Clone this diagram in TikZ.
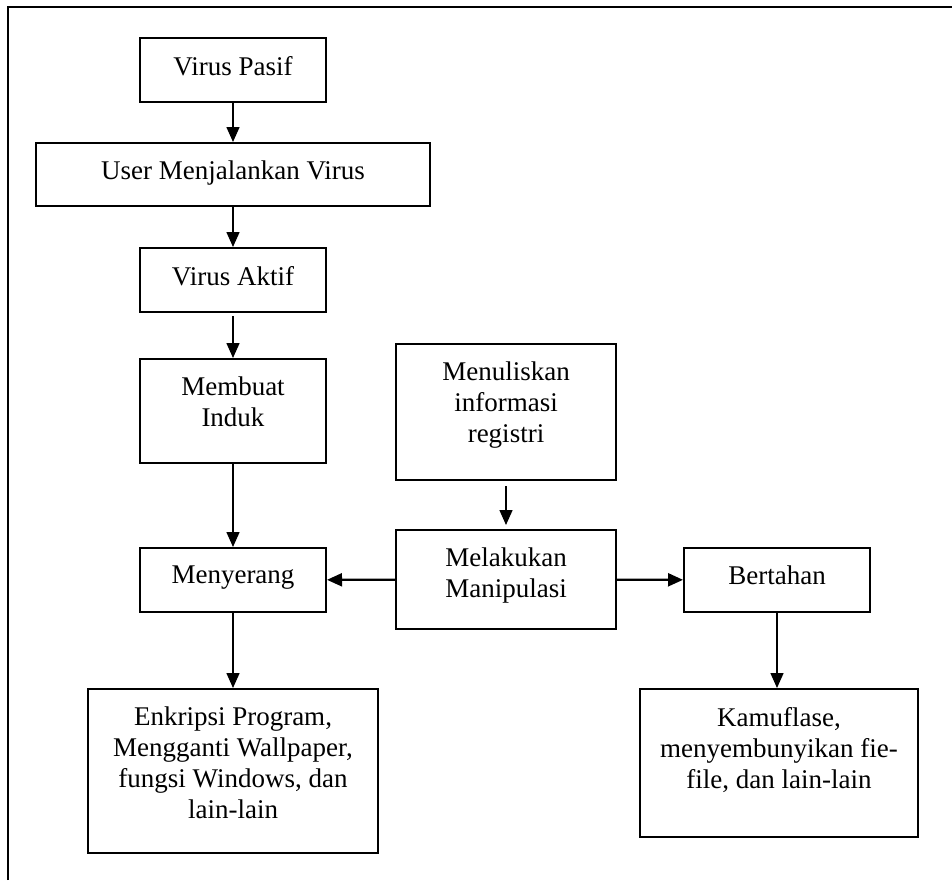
\documentclass[tikz,border=0pt]{standalone}
\usepackage{fontspec}
\setmainfont{Liberation Serif}
\usetikzlibrary{arrows.meta,positioning}

\tikzset{
  stagebox/.style={draw=black, line width=2pt, inner sep=0pt},
  boxtext/.style={label={[anchor=north, yshift=-19pt, inner sep=0pt, align=center,
      font=\fontsize{27}{31}\selectfont]north:{#1}}},
  flow/.style={-{Triangle[length=15pt,width=13pt]}, line width=1.5pt},
  sideflow/.style={flow, line width=2.2pt}
}

\begin{document}
\begin{tikzpicture}[x=1pt,y=-1pt]
    \useasboundingbox (0,0) rectangle (952,880);
    % frame (only top and left edges show)
    \draw[line width=2pt] (7.5,880) -- (7.5,7.5) -- (952,7.5);

    % left column
    \node[stagebox, minimum width=186pt, minimum height=64pt,
      boxtext={Virus Pasif}] (pasif) at (233,70) {};
    \node[stagebox, minimum width=394pt, minimum height=63pt,
      boxtext={User Menjalankan Virus}] (user) at (233,174.5) {};
    \node[stagebox, minimum width=186pt, minimum height=64pt,
      boxtext={Virus Aktif}] (aktif) at (233,280) {};
    \node[stagebox, minimum width=186pt, minimum height=104pt,
      boxtext={Membuat\\Induk}] (induk) at (233,411) {};
    \node[stagebox, minimum width=186pt, minimum height=64pt,
      boxtext={Menyerang}] (serang) at (233,580) {};
    \node[stagebox, minimum width=290pt, minimum height=164pt,
      boxtext={Enkripsi Program,\\Mengganti Wallpaper,\\fungsi Windows, dan\\lain-lain}] (enkripsi) at (233,771) {};

    % middle column
    \node[stagebox, minimum width=220pt, minimum height=136pt,
      boxtext={Menuliskan\\informasi\\registri}] (registri) at (506,412) {};
    \node[stagebox, minimum width=220pt, minimum height=99pt,
      boxtext={Melakukan\\Manipulasi}] (mani) at (506,579.5) {};

    % right column
    \node[stagebox, minimum width=186pt, minimum height=64pt,
      boxtext={Bertahan}] (bertahan) at (777,580) {};
    \node[stagebox, minimum width=278pt, minimum height=148pt,
      boxtext={Kamuflase,\\menyembunyikan fie-\\file, dan lain-lain}] (kamuflase) at (779,763) {};

    \draw[flow] (pasif) -- (user);
    \draw[flow] (user) -- (aktif);
    \draw[flow, shorten <=3pt] (aktif) -- (induk);
    \draw[flow] (induk) -- (serang);
    \draw[flow] (serang) -- (enkripsi);
    \draw[flow, shorten <=5pt, shorten >=4pt] (registri) -- (mani);
    \draw[sideflow] (mani) -- (serang);
    \draw[sideflow] (mani) -- (bertahan);
    \draw[flow] (bertahan.south) -- (bertahan.south |- kamuflase.north);
  \end{tikzpicture}
\end{document}
